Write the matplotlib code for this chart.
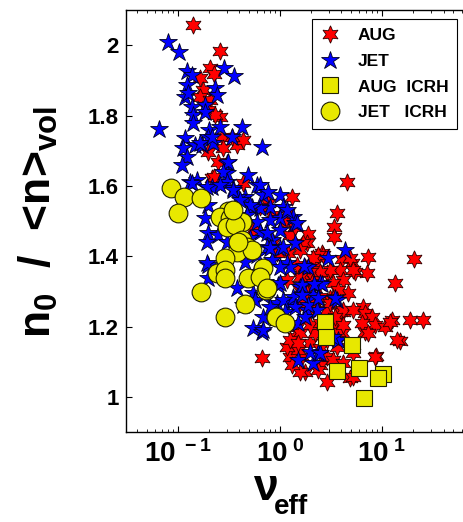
import matplotlib.pyplot as plt

plt.rcParams['font.family'] = ['Liberation Sans', 'DejaVu Sans']
plt.rcParams['font.weight'] = 'bold'
plt.rcParams['mathtext.fontset'] = 'custom'
plt.rcParams['mathtext.rm'] = 'Liberation Sans:bold'
plt.rcParams['mathtext.bf'] = 'Liberation Sans:bold'
plt.rcParams['mathtext.it'] = 'Liberation Sans:bold'

# AUG (red hexagrams): nu_eff, n0/<n>vol
aug_nu = [0.140, 0.258, 0.206, 0.225, 0.164, 0.176, 0.164, 0.206, 0.197, 0.258,
          0.231, 0.270, 0.379, 0.434, 0.338, 0.197, 0.247, 0.276, 0.215, 0.434,
          0.763, 1.31, 1.17, 0.637, 1.25, 4.54, 3.62, 3.38, 3.38, 1.88,
          1.84, 2.58, 7.29, 20.6, 4.05, 5.08, 7.13, 5.44, 3.88, 13.4,
          2.20, 2.89, 4.15, 2.20, 3.31, 4.64, 4.15, 6.51, 6.81, 7.98,
          8.54, 10.7, 12.5, 18.8, 25.2, 15.0, 6.81, 8.73, 5.20, 4.86,
          2.89, 4.05, 3.62, 2.89, 1.76, 2.47, 3.31, 1.64, 1.97, 2.47,
          1.76, 2.31, 3.09, 0.667, 1.25, 1.57, 1.47, 1.40, 1.50, 1.31,
          2.36, 2.20, 1.97, 2.64, 2.11, 1.68, 3.31, 2.89, 3.88, 3.46,
          3.70, 2.89, 6.37, 12.0, 7.29, 14.0, 8.54, 4.15, 5.20, 1.57,
          1.17, 1.25, 1.68, 2.36, 4.86, 5.20, 3.09, 2.47, 1.97, 1.64,
          2.06, 1.47, 1.25, 1.12, 1.40, 0.854, 1.20, 1.57, 1.97, 2.47,
          3.70, 3.09, 4.15, 3.46, 5.20, 2.11, 1.88, 2.47, 4.15, 0.225,
          1.57, 2.11, 1.76, 1.57, 1.68, 1.84, 1.57, 2.11, 1.50, 0.835,
          0.543, 0.934, 1.17]
aug_n = [2.057, 1.983, 1.935, 1.918, 1.906, 1.872, 1.852, 1.844, 1.815, 1.795,
         1.801, 1.739, 1.716, 1.730, 1.739, 1.696, 1.668, 1.707, 1.622, 1.608,
         1.551, 1.568, 1.523, 1.540, 1.503, 1.611, 1.523, 1.483, 1.455, 1.463,
         1.438, 1.409, 1.398, 1.392, 1.392, 1.381, 1.352, 1.355, 1.361, 1.324,
         1.381, 1.352, 1.332, 1.332, 1.324, 1.295, 1.241, 1.256, 1.239, 1.227,
         1.205, 1.199, 1.219, 1.219, 1.219, 1.159, 1.185, 1.116, 1.125, 1.054,
         1.043, 1.182, 1.142, 1.114, 1.071, 1.091, 1.105, 1.114, 1.153, 1.139,
         1.284, 1.276, 1.281, 1.111, 1.114, 1.071, 1.199, 1.170, 1.134, 1.091,
         1.077, 1.182, 1.205, 1.403, 1.361, 1.352, 1.281, 1.247, 1.241, 1.213,
         1.185, 1.162, 1.210, 1.213, 1.182, 1.162, 1.114, 1.097, 1.057, 1.182,
         1.142, 1.162, 1.438, 1.403, 1.395, 1.361, 1.361, 1.355, 1.355, 1.347,
         1.324, 1.375, 1.460, 1.497, 1.483, 1.440, 1.409, 1.304, 1.298, 1.284,
         1.304, 1.267, 1.247, 1.227, 1.247, 1.267, 1.241, 1.210, 1.205, 1.625,
         1.418, 1.395, 1.369, 1.341, 1.313, 1.295, 1.267, 1.247, 1.153, 1.517,
         1.474, 1.409, 1.332]

# JET (blue stars)
jet_nu = [0.080, 0.102, 0.123, 0.137, 0.283, 0.354, 0.123, 0.117, 0.125, 0.231,
          0.241, 0.137, 0.140, 0.140, 0.184, 0.184, 0.065, 0.117, 0.112, 0.123,
          0.109, 0.147, 0.172, 0.201, 0.197, 0.258, 0.424, 0.220, 0.338, 0.667,
          0.302, 0.302, 0.486, 0.154, 0.164, 0.215, 0.309, 0.131, 0.276, 0.302,
          0.215, 0.346, 0.595, 0.681, 0.454, 0.388, 1.00, 0.798, 1.07, 1.00,
          1.34, 0.637, 0.531, 0.197, 0.184, 0.595, 0.798, 0.137, 0.192, 0.258,
          0.346, 0.637, 0.763, 1.17, 1.40, 0.197, 0.247, 0.302, 0.192, 0.637,
          0.835, 1.00, 0.746, 0.595, 0.835, 1.17, 0.197, 0.197, 0.379, 0.543,
          0.956, 1.25, 0.934, 0.681, 0.543, 0.667, 1.57, 1.34, 1.84, 1.50,
          0.508, 1.47, 1.00, 0.746, 1.40, 1.07, 0.798, 1.88, 1.25, 1.00,
          1.64, 1.00, 2.11, 2.47, 2.96, 4.34, 1.40, 1.07, 1.76, 0.798,
          0.681, 2.31, 3.62, 1.72, 2.58, 2.15, 0.192, 0.681, 1.50, 2.11,
          2.36, 3.70, 3.31, 1.97, 2.47, 1.88, 1.64, 2.36, 3.46, 0.405,
          0.475, 0.388, 0.508, 0.454, 0.569, 0.713, 0.569, 0.434, 0.893, 1.12]
jet_n = [2.009, 1.980, 1.926, 1.915, 1.935, 1.912, 1.886, 1.852, 1.864, 1.878,
         1.858, 1.824, 1.801, 1.778, 1.830, 1.810, 1.761, 1.736, 1.707, 1.682,
         1.659, 1.716, 1.716, 1.759, 1.739, 1.767, 1.767, 1.722, 1.739, 1.710,
         1.665, 1.636, 1.631, 1.617, 1.722, 1.739, 1.668, 1.611, 1.639, 1.611,
         1.597, 1.594, 1.602, 1.574, 1.568, 1.568, 1.574, 1.540, 1.540, 1.509,
         1.511, 1.537, 1.540, 1.545, 1.509, 1.497, 1.503, 1.608, 1.597, 1.602,
         1.588, 1.602, 1.582, 1.531, 1.494, 1.466, 1.460, 1.440, 1.440, 1.469,
         1.446, 1.423, 1.426, 1.403, 1.389, 1.381, 1.375, 1.338, 1.310, 1.295,
         1.318, 1.267, 1.267, 1.227, 1.196, 1.185, 1.313, 1.284, 1.247, 1.210,
         1.545, 1.494, 1.474, 1.466, 1.438, 1.426, 1.423, 1.369, 1.369, 1.369,
         1.318, 1.324, 1.290, 1.324, 1.395, 1.418, 1.256, 1.276, 1.227, 1.256,
         1.290, 1.247, 1.276, 1.372, 1.321, 1.321, 1.381, 1.190, 1.105, 1.097,
         1.125, 1.162, 1.170, 1.128, 1.125, 1.261, 1.290, 1.281, 1.281, 1.560,
         1.517, 1.480, 1.452, 1.384, 1.355, 1.327, 1.276, 1.261, 1.224, 1.241]

# AUG ICRH (yellow squares)
aug_icrh_nu = [2.76, 2.82, 5.08, 3.62, 5.95, 10.2, 9.14, 6.66]
aug_icrh_n = [1.213, 1.170, 1.148, 1.074, 1.082, 1.065, 1.054, 0.997]

# JET ICRH (yellow circles)
jet_icrh_nu = [0.0853, 0.115, 0.168, 0.100, 0.309, 0.258, 0.324, 0.424, 0.302, 0.362,
               0.424, 0.475, 0.379, 0.531, 0.289, 0.681, 0.241, 0.289, 0.289, 0.486,
               0.637, 0.729, 0.168, 0.454, 0.289, 0.913, 1.12, 0.346, 0.388, 0.746]
jet_icrh_n = [1.594, 1.568, 1.565, 1.523, 1.528, 1.511, 1.509, 1.497, 1.483, 1.489,
              1.446, 1.426, 1.412, 1.418, 1.395, 1.366, 1.352, 1.361, 1.338, 1.338,
              1.341, 1.304, 1.298, 1.264, 1.227, 1.227, 1.210, 1.531, 1.440, 1.310]

yellow = '#e8e800'

fig = plt.figure(figsize=(4.63, 5.22), dpi=100)
ax = fig.add_axes([0.2721, 0.1724, 0.7279, 0.8084])

ax.plot(aug_nu, aug_n, linestyle='none', marker=(6, 1, 0), markersize=12.5,
        markerfacecolor='red', markeredgecolor='#300000', markeredgewidth=0.6, label='AUG')
ax.plot(jet_nu, jet_n, linestyle='none', marker='*', markersize=13.5,
        markerfacecolor='blue', markeredgecolor='#000020', markeredgewidth=0.6, label='JET')
ax.plot(aug_icrh_nu, aug_icrh_n, linestyle='none', marker='s', markersize=11,
        markerfacecolor=yellow, markeredgecolor='#202000', markeredgewidth=0.8, label='AUG  ICRH')
ax.plot(jet_icrh_nu, jet_icrh_n, linestyle='none', marker='o', markersize=13.5,
        markerfacecolor=yellow, markeredgecolor='#202000', markeredgewidth=0.8, label='JET   ICRH')

ax.set_xscale('log')
ax.set_xlim(0.031, 62)
ax.set_ylim(0.9, 2.1)

ax.set_xticks([0.1, 1, 10], labels=[r'$10^{\ -1}$', r'$10^{\ 0}$', r'$10^{\ 1}$'])
ax.set_yticks([1, 1.2, 1.4, 1.6, 1.8, 2], labels=['1', '1.2', '1.4', '1.6', '1.8', '2'])
ax.tick_params(axis='x', which='both', direction='in', top=True, labelsize=20, pad=6)
ax.tick_params(axis='x', which='major', length=4, width=0.8)
ax.tick_params(axis='x', which='minor', length=2.2, width=0.6)
ax.tick_params(axis='y', direction='in', length=4, width=0.8, labelsize=16, pad=5)

ax.spines['right'].set_visible(False)
for s in ['left', 'bottom', 'top']:
    ax.spines[s].set_linewidth(1.0)

leg = ax.legend(loc='upper right', bbox_to_anchor=(0.982, 0.979), borderaxespad=0,
                fontsize=12.5, fancybox=False, framealpha=1, edgecolor='black',
                borderpad=0.5, handlelength=1.0, handletextpad=1.1, labelspacing=0.62)
leg.get_frame().set_linewidth(0.8)

# axis labels
fig.text(0.082, 0.575, r'n$_{\mathbf{0}}$  /  <n>$_{\mathbf{vol}}$', rotation=90,
         ha='center', va='center', fontsize=32, fontweight='bold')
fig.text(0.547, 0.043, 'ν', ha='left', va='baseline', fontsize=32, fontweight='bold')
fig.text(0.592, 0.016, 'eff', ha='left', va='baseline', fontsize=20, fontweight='bold')

fig.savefig('out.png', dpi=100)
